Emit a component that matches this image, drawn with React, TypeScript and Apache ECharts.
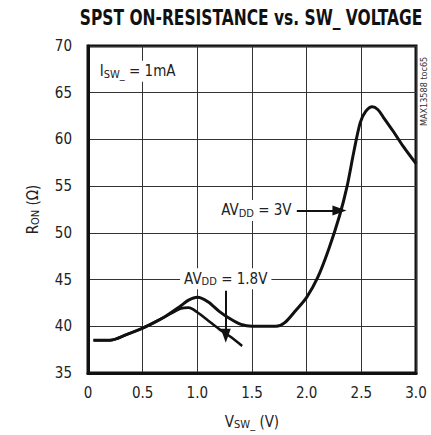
import React, { useEffect, useRef } from "react";
import * as echarts from "echarts";

const xTicks = [0, 0.5, 1.0, 1.5, 2.0, 2.5, 3.0];
const yTicks = [35, 40, 45, 50, 55, 60, 65, 70];

const vsw3V = [0.05, 0.2, 0.35, 0.5, 0.7, 0.85, 0.92, 1.0, 1.1, 1.2, 1.3, 1.4, 1.5, 1.6, 1.72, 1.8, 1.9, 2.0, 2.1, 2.2, 2.3, 2.37, 2.43, 2.49, 2.54, 2.6, 2.65, 2.7, 2.79, 2.88, 3.0];
const ron3V = [38.5, 38.5, 39.1, 39.8, 41.0, 42.2, 42.8, 43.1, 42.6, 41.6, 40.8, 40.2, 40.0, 40.0, 40.0, 40.4, 41.7, 43.1, 45.2, 48.2, 51.8, 55.0, 58.6, 61.8, 63.0, 63.5, 63.2, 62.4, 60.9, 59.3, 57.4];

const vsw18V = [0.05, 0.2, 0.35, 0.5, 0.7, 0.85, 0.92, 1.0, 1.1, 1.2, 1.3, 1.41];
const ron18V = [38.5, 38.5, 39.1, 39.8, 41.0, 41.9, 42.0, 41.5, 40.6, 39.7, 38.9, 37.9];

const FONT = "'Liberation Sans Narrow', 'DejaVu Sans Condensed', 'Roboto', sans-serif";

const richSub = {
  n: { fontSize: 15, color: "#222", fontFamily: FONT },
  s: { fontSize: 11, color: "#222", fontFamily: FONT, padding: [6, 0, 0, 0] },
};

export default function App() {
  const ref = useRef<HTMLDivElement>(null);
  useEffect(() => {
    if (!ref.current) return;
    const chart = echarts.init(ref.current, null, { renderer: "svg" });
    chart.setOption({
      animation: false,
      textStyle: { fontFamily: FONT },
      grid: {
        left: 88,
        top: 46,
        right: 15,
        bottom: 59,
        show: true,
        borderColor: "#111",
        borderWidth: 3,
        backgroundColor: "transparent",
      },
      xAxis: {
        type: "value",
        min: 0,
        max: 3,
        interval: 0.5,
        name: "{n|V}{s|SW_}{n| (V)}",
        nameLocation: "middle",
        nameGap: 40,
        nameTextStyle: { rich: richSub },
        axisLine: { show: true, lineStyle: { color: "#111", width: 3 } },
        axisTick: { show: false },
        axisLabel: {
          margin: 12,
          fontSize: 15,
          color: "#222",
          fontFamily: FONT,
          formatter: (v: number) => (v === 0 ? "0" : v.toFixed(1)),
        },
        splitLine: { show: true, lineStyle: { color: "#333", width: 1 } },
      },
      yAxis: {
        type: "value",
        min: 35,
        max: 70,
        interval: 5,
        name: "{n|R}{s|ON}{n| (Ω)}",
        nameLocation: "middle",
        nameGap: 47,
        nameRotate: 90,
        nameTextStyle: { rich: richSub },
        axisLine: { show: true, lineStyle: { color: "#111", width: 3 } },
        axisTick: { show: false },
        axisLabel: { margin: 16, fontSize: 15, color: "#222", fontFamily: FONT },
        splitLine: { show: true, lineStyle: { color: "#333", width: 1 } },
      },
      series: [
        {
          type: "line",
          name: "AVDD = 1.8V",
          data: vsw18V.map((x, i) => [x, ron18V[i]]),
          showSymbol: false,
          symbol: "none",
          smooth: 0.3,
          lineStyle: { color: "#111", width: 2.6 },
          z: 3,
        },
        {
          type: "line",
          name: "AVDD = 3V",
          data: vsw3V.map((x, i) => [x, ron3V[i]]),
          showSymbol: false,
          symbol: "none",
          smooth: 0.3,
          lineStyle: { color: "#111", width: 3 },
          z: 4,
          markLine: {
            silent: true,
            symbol: ["none", "triangle"],
            symbolSize: [10, 14],
            lineStyle: { color: "#111", width: 2, type: "solid" },
            label: { show: false },
            data: [
              [{ coord: [1.91, 52.4] }, { coord: [2.3, 52.4] }],
              [{ coord: [1.26, 43.8] }, { coord: [1.26, 39.0] }],
            ],
          },
          markPoint: {
            silent: true,
            symbol: "rect",
            symbolSize: 0,
            data: [
              {
                coord: [1.54, 52.4],
                label: {
                  show: true,
                  position: "inside",
                  formatter: "{n|AV}{s|DD}{n| = 3V}",
                  backgroundColor: "#fff",
                  padding: [2, 4, 2, 4],
                  rich: richSub,
                },
              },
              {
                coord: [1.26, 45.1],
                label: {
                  show: true,
                  position: "inside",
                  formatter: "{n|AV}{s|DD}{n| = 1.8V}",
                  backgroundColor: "#fff",
                  padding: [2, 4, 2, 4],
                  rich: richSub,
                },
              },
              {
                coord: [0.08, 67.3],
                label: {
                  show: true,
                  position: "right",
                  distance: 0,
                  formatter: "{n|I}{s|SW_}{n| = 1mA}",
                  backgroundColor: "#fff",
                  padding: [2, 3, 2, 3],
                  rich: richSub,
                },
              },
            ],
          },
        },
      ],
      graphic: [
        {
          type: "text",
          x: 251,
          y: 7,
          scaleX: 0.82,
          style: {
            text: "SPST ON-RESISTANCE vs. SW_ VOLTAGE",
            fontSize: 21,
            fontWeight: "bold",
            fontFamily: FONT,
            fill: "#111",
            align: "center",
            verticalAlign: "top",
          },
        },
        {
          type: "text",
          x: 419,
          y: 126,
          rotation: Math.PI / 2,
          style: {
            text: "MAX13588 toc65",
            fontSize: 9,
            fontFamily: FONT,
            fill: "#333",
          },
        },
      ],
    });
    return () => chart.dispose();
  }, []);
  return <div ref={ref} style={{ width: 431, height: 435, position: "absolute", left: 0, top: 0 }} />;
}
